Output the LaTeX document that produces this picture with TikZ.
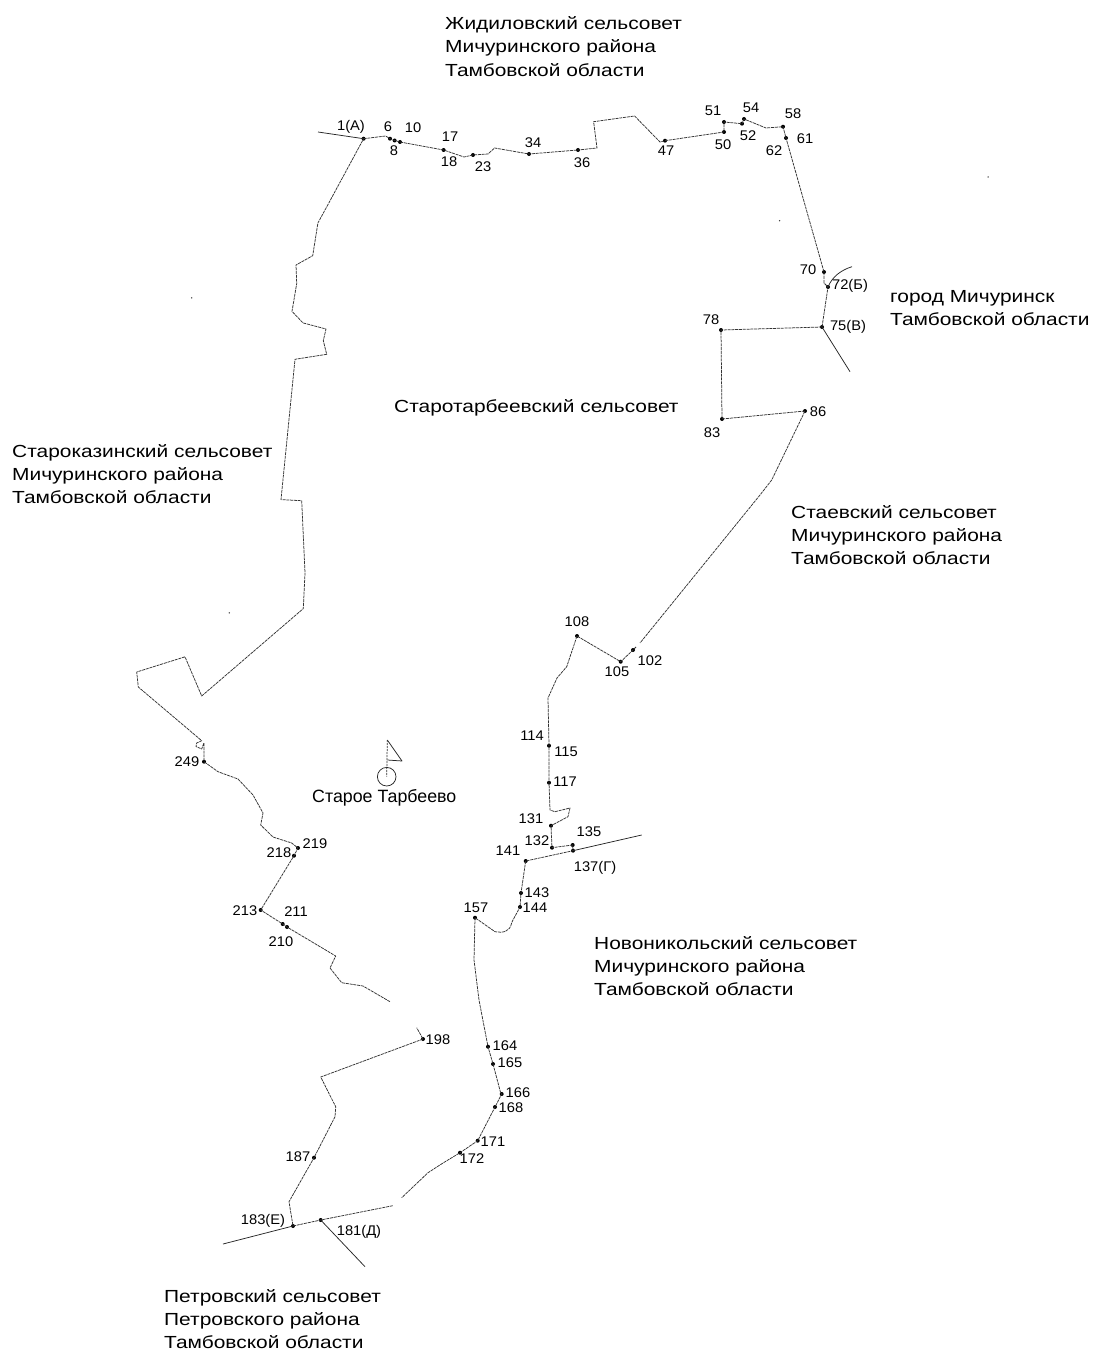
\documentclass[tikz,border=0pt]{standalone}
\usepackage{fontspec}
\setmainfont{Liberation Sans}
\newfontfamily\regionfont[FakeStretch=1.195]{Liberation Sans}
\newfontfamily\numberfont[FakeStretch=1.05]{Liberation Sans}
\tikzset{
  border/.style={draw=black!80,line width=0.75pt,dash pattern=on 3pt off 0.8pt,line join=round},
  solidline/.style={draw=black!85,line width=0.75pt,line join=round},
  vertex/.style={circle,fill=black,inner sep=0pt,minimum size=4pt},
  speck/.style={circle,fill=black!80,inner sep=0pt,minimum size=1.5pt},
  numlabel/.style={inner sep=0pt,font=\numberfont\fontsize{14}{15}\selectfont},
  region/.style={inner sep=0pt,anchor=west,align=left,font=\regionfont\fontsize{17.5}{23.3}\selectfont},
  village/.style={inner sep=0pt,anchor=west,font=\fontsize{17.8}{20}\selectfont}
}
\begin{document}
\begin{tikzpicture}[x=1pt,y=-1pt]
\useasboundingbox (0,0) rectangle (1095,1351);
% vertices
\foreach \n/\x/\y in {1/363.6/138.7,6/390/138.7,8/394.6/140.5,10/400/142,17/443.6/150,23/473/155,34/529/154,36/578/150,47/665/140.7,50/724/132,51/724/122,52/742/123.7,54/744/119,58/783/126.7,61/786/138,70/824/272,72/828/287,75/822/327,78/721/330,83/722/419,86/805/411,102/633/650,105/620.7/661.7,108/577/636,115/549/745.7,117/549/782.7,131/551/825.7,132/552/847.7,135/572.7/845,137/573/850.7,141/525.7/861,143/521/893,144/520/907,157/475/917.7,164/488/1046.7,165/493/1064,166/501.7/1094,168/495/1107,171/477.7/1140.7,172/460/1152.7,181/320.7/1220,183/293/1226,187/314/1157.7,198/423/1039,210/282.7/924,211/287/927,213/260.7/910,218/294/855.7,219/298/848,249/204/761.7}
  \node[vertex] (p\n) at (\x,\y) {};
% boundary
\draw[solidline] (318,132) -- (p1.center);
\draw[border] (p1.center) -- (385.7,136) -- (p6.center) -- (p8.center) -- (p10.center) -- (p17.center) -- (464,157) -- (p23.center) -- (488,154) -- (494.6,148) -- (p34.center) -- (p36.center) -- (597,148) -- (593.6,121.7) -- (634.6,116) -- (660,142) -- (p47.center) -- (p50.center) -- (p51.center) -- (p52.center) -- (p54.center) -- (766,128) -- (p58.center) -- (p61.center) -- (p70.center) -- (824,283) -- (p72.center) -- (p75.center) -- (p78.center) -- (p83.center) -- (p86.center) -- (771.7,480) -- (760,495) -- (640,643);
\draw[border] (636,647) -- (p102.center) -- (p105.center) -- (p108.center) -- (566.7,666.7) -- (557,678) -- (548,698) -- (p115.center) -- (p117.center) -- (550,810) -- (555,811.7) -- (570,808) -- (568,816.7) -- (556.7,822.7) -- (p131.center) -- (p132.center) -- (p135.center) -- (p137.center) -- (p141.center) -- (p143.center) -- (p144.center) -- (513,920) -- (511.7,922.7) .. controls (510,932) and (503,933) .. (495,931.7) -- (p157.center) -- (474,960) -- (479,1000) -- (p164.center) -- (p165.center) -- (500.7,1093) -- (p166.center) -- (p168.center) -- (p171.center) -- (p172.center) -- (443,1163) -- (428,1172.7) -- (401.7,1197.7);
\draw[border] (392.7,1205.7) -- (p181.center) -- (p183.center) -- (289,1201.7) -- (p187.center) -- (335,1116.7) -- (335.7,1106.7) -- (320.7,1077) -- (p198.center) -- (416.7,1027.7);
\draw[border] (390,1001.7) -- (363,986) -- (341.7,982.7) -- (330,968) -- (335.7,956) -- (p211.center) -- (p210.center) -- (p213.center) -- (p218.center) -- (p219.center) -- (291.7,843) -- (273,837) -- (260.7,825) -- (263,813) -- (253,795) -- (238,779) -- (218,771.7) -- (p249.center) -- (204,742.7) -- (201.7,749) -- (196,746.5) -- (196.7,743) -- (201.7,740.7) -- (138.3,687) -- (136.7,672) -- (185,656.8) -- (201.7,696) -- (303.3,608.6) -- (305,572.9) -- (301.7,500.7) -- (281,499.6) -- (295,359.3) -- (326.7,354.3) -- (323.3,340.7) -- (326,329) -- (303,322.9) -- (292,311.4) -- (296.7,283.6) -- (296,265) -- (312.7,255.7) -- (317.9,223) -- (326.8,206.7) -- (p1.center);
% outer lines
\draw[solidline] (p137.center) -- (641.7,835);
\draw[solidline] (p183.center) -- (223,1244);
\draw[solidline] (p181.center) -- (365,1266.7);
\draw[solidline] (p75.center) -- (850,371.7);
\draw[solidline] (p72.center) .. controls (832,277) and (841,270) .. (852,266.7);
% flag symbol
\node[circle,draw=black!85,line width=0.75pt,inner sep=0pt,minimum size=18.6pt] (flagring) at (386.7,776.7) {};
\draw[solidline] (387.3,740) -- (402,761) -- (387.3,760);
\draw[border,dash pattern=on 2pt off 1pt] (387.3,740) -- (flagring.center);
% specks
\foreach \n/\x/\y in {a/988/177,b/779.6/220.7,c/191.7/297.9,d/229.3/612.9}
  \node[speck] (s\n) at (\x,\y) {};
% number labels
\foreach \n/\x/\y/\t in {a/351/127/1(А),b/388/127/6,c/413/128/10,d/394/151/8,e/450/137/17,f/449/162/18,g/483/167/23,h/533/143/34,i/582/163/36,j/666/151/47,k/713/111/51,l/723/145/50,m/751/108/54,n/748/136/52,o/793/114/58,p/805/139/61,q/774/151/62,r/808/270/70,s/850/286/72(Б),t/848/327/75(В),u/711/320/78,v/712/433/83,w/818/412/86,x/577/622/108,y/617/672/105,z/650/661/102,aa/532/736/114,ab/566/752/115,ac/565/782/117,ad/531/819/131,ae/537/841/132,af/589/832/135,ag/508/851/141,ah/595/868/137(Г),ai/537/893/143,aj/535/908/144,ak/476/908/157,al/505/1046/164,am/510/1063/165,an/518/1093/166,ao/511/1108/168,ap/493/1142/171,aq/472/1159/172,ar/438/1040/198,as/298/1157/187,at/263/1221/183(Е),au/359/1232/181(Д),av/187/762/249,aw/315/844/219,ax/279/853/218,ay/245/911/213,az/296/912/211,ba/281/942/210}
  \node[numlabel] (lab\n) at (\x,\y) {\t};
% region labels
\node[region] (r1) at (445,46.5) {Жидиловский сельсовет\\Мичуринского района\\Тамбовской области};
\node[region] (r2) at (890,308) {город Мичуринск\\Тамбовской области};
\node[region] (r3) at (394,408) {Старотарбеевский сельсовет};
\node[region] (r4) at (12,474) {Староказинский сельсовет\\Мичуринского района\\Тамбовской области};
\node[region] (r5) at (791,535) {Стаевский сельсовет\\Мичуринского района\\Тамбовской области};
\node[village] (r6) at (312,798) {Старое Тарбеево};
\node[region] (r7) at (594,966) {Новоникольский сельсовет\\Мичуринского района\\Тамбовской области};
\node[region] (r8) at (164,1319) {Петровский сельсовет\\Петровского района\\Тамбовской области};
\end{tikzpicture}
\end{document}
